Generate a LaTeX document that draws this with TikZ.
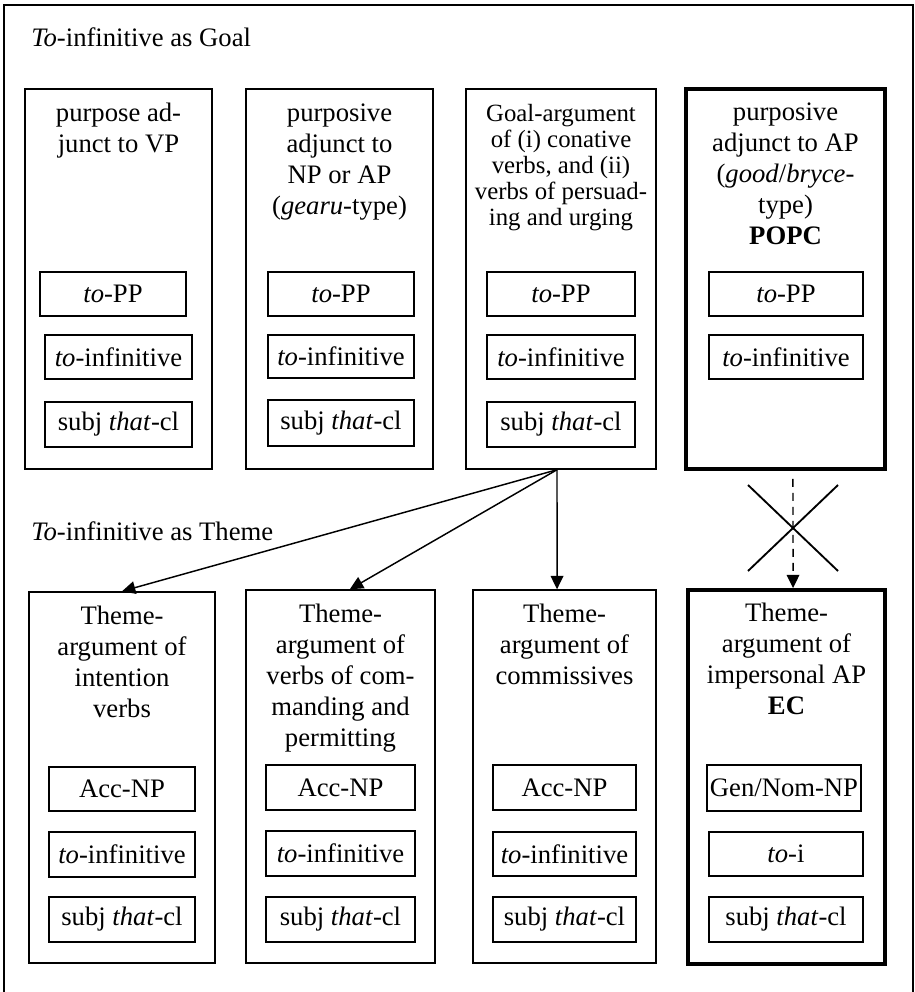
\documentclass[tikz,border=0pt]{standalone}
\usepackage{fontspec}
\setmainfont{Liberation Serif}
\usetikzlibrary{arrows.meta,fit}
% fixed height for the first line of every heading
\newcommand\firststrut{\rule{0pt}{15pt}}
\begin{document}
\begin{tikzpicture}[x=0.75pt,y=-0.75pt,
  every node/.style={font=\fontsize{20}{23.25}\selectfont},
  outbox/.style={draw, line width=1.1pt, inner sep=0pt},
  heavybox/.style={draw, line width=2.8pt, inner sep=0pt},
  formbox/.style={draw, line width=1.1pt, inner sep=0pt},
  formtext/.style={inner sep=0pt},
  head/.style={anchor=north, align=center, inner sep=0pt, yshift=-9.75pt},
  tight/.style={font=\fontsize{18.6}{19.5}\selectfont},
  title/.style={anchor=base west, inner sep=0pt},
  link/.style={line width=1.1pt, -{Triangle[length=10pt,width=9.5pt]}},
  blocked/.style={line width=1.1pt, dash pattern=on 6pt off 4.5pt,
                  -{Triangle[length=10pt,width=9.5pt]}},
]
\useasboundingbox (0,0) rectangle (914,992);

% outer frame
\draw[line width=1.3pt] (4,992) -- (4,5) -- (913,5) -- (913,992);

% ---------------- To-infinitive as Goal ----------------
\node[title] (goal) at (31,46) {\textit{To}-infinitive as Goal};

\node[outbox,   fit={(25,89)(212,469)}]  (g1) {};
\node[outbox,   fit={(246,89)(433,469)}] (g2) {};
\node[outbox,   fit={(466,89)(656,469)}] (g3) {};
\node[heavybox, fit={(686,89)(885,469)}] (g4) {};

\node[head] (h1) at (g1.north) {\firststrut purpose ad-\\junct to VP};
\node[head] (h2) at (g2.north) {\firststrut purposive\\adjunct to\\NP or AP\\(\textit{gearu}-type)};
\node[head, tight] (h3) at (g3.north) {\firststrut Goal-argument\\of (i) conative\\verbs, and (ii)\\verbs of persuad-\\ing and urging};
\node[head] (h4) at (g4.north) {\firststrut purposive\\adjunct to AP\\(\textit{good}/\textit{bryce}-\\type)\\\textbf{POPC}};

\node[formbox, fit={(40,272)(186,316)}]  (g1a) {};
\node[formbox, fit={(45,335)(192,379)}]  (g1b) {};
\node[formbox, fit={(45,402)(192,447)}]  (g1c) {};
\node[formtext] at (g1a) {\textit{to}-PP};
\node[formtext] at (g1b) {\textit{to}-infinitive};
\node[formtext] at (g1c) {subj \textit{that}-cl};

\node[formbox, fit={(268,272)(414,316)}] (g2a) {};
\node[formbox, fit={(268,335)(414,378)}] (g2b) {};
\node[formbox, fit={(268,400)(414,446)}] (g2c) {};
\node[formtext] at (g2a) {\textit{to}-PP};
\node[formtext] at (g2b) {\textit{to}-infinitive};
\node[formtext] at (g2c) {subj \textit{that}-cl};

\node[formbox, fit={(487,272)(635,316)}] (g3a) {};
\node[formbox, fit={(487,335)(635,379)}] (g3b) {};
\node[formbox, fit={(487,402)(635,447)}] (g3c) {};
\node[formtext] at (g3a) {\textit{to}-PP};
\node[formtext] at (g3b) {\textit{to}-infinitive};
\node[formtext] at (g3c) {subj \textit{that}-cl};

\node[formbox, fit={(709,272)(863,316)}] (g4a) {};
\node[formbox, fit={(709,335)(863,379)}] (g4b) {};
\node[formtext] at (g4a) {\textit{to}-PP};
\node[formtext] at (g4b) {\textit{to}-infinitive};

% ---------------- To-infinitive as Theme ----------------
\node[title] (theme) at (31,540) {\textit{To}-infinitive as Theme};

\node[outbox,   fit={(29,592)(215,963)}]  (t1) {};
\node[outbox,   fit={(246,590)(435,963)}] (t2) {};
\node[outbox,   fit={(473,590)(656,963)}] (t3) {};
\node[heavybox, fit={(688,590)(885,964)}] (t4) {};

\node[head] (k1) at (t1.north) {\firststrut Theme-\\argument of\\intention\\verbs};
\node[head] (k2) at (t2.north) {\firststrut Theme-\\argument of\\verbs of com-\\manding and\\permitting};
\node[head] (k3) at (t3.north) {\firststrut Theme-\\argument of\\commissives};
\node[head] (k4) at (t4.north) {\firststrut Theme-\\argument of\\impersonal AP\\\textbf{EC}};

\node[formbox, fit={(49,767)(195,811)}]  (t1a) {};
\node[formbox, fit={(49,832)(195,877)}]  (t1b) {};
\node[formbox, fit={(49,897)(195,942)}]  (t1c) {};
\node[formtext] at (t1a) {Acc-NP};
\node[formtext] at (t1b) {\textit{to}-infinitive};
\node[formtext] at (t1c) {subj \textit{that}-cl};

\node[formbox, fit={(266,765)(415,810)}] (t2a) {};
\node[formbox, fit={(266,831)(415,876)}] (t2b) {};
\node[formbox, fit={(266,897)(415,942)}] (t2c) {};
\node[formtext] at (t2a) {Acc-NP};
\node[formtext] at (t2b) {\textit{to}-infinitive};
\node[formtext] at (t2c) {subj \textit{that}-cl};

\node[formbox, fit={(493,765)(636,810)}] (t3a) {};
\node[formbox, fit={(493,832)(636,876)}] (t3b) {};
\node[formbox, fit={(493,897)(636,942)}] (t3c) {};
\node[formtext] at (t3a) {Acc-NP};
\node[formtext] at (t3b) {\textit{to}-infinitive};
\node[formtext] at (t3c) {subj \textit{that}-cl};

\node[formbox, fit={(707,765)(861,811)}] (t4a) {};
\node[formbox, fit={(709,832)(863,876)}] (t4b) {};
\node[formbox, fit={(709,897)(863,942)}] (t4c) {};
\node[formtext] at (t4a) {Gen/Nom-NP};
\node[formtext] at (t4b) {\textit{to}-i};
\node[formtext] at (t4c) {subj \textit{that}-cl};

% ---------------- connectors ----------------
\draw[link] ([xshift=-3pt]g3.south) -- (t1.north);
\draw[link] ([xshift=-3pt]g3.south) -- ([xshift=7pt]t2.north);
\draw[link] ([xshift=-3pt]g3.south) -- ([xshift=-5.6pt]t3.north);

\draw[blocked] ([xshift=5.6pt,yshift=-6pt]g4.south) -- ([xshift=4.9pt]t4.north);
% the cross over the blocked link
\coordinate (xc) at (793,528);
\draw[line width=1.4pt] ([shift={(-45,-43)}]xc) -- ([shift={(45,43)}]xc)
                        ([shift={(45,-43)}]xc) -- ([shift={(-45,43)}]xc);
\end{tikzpicture}
\end{document}
